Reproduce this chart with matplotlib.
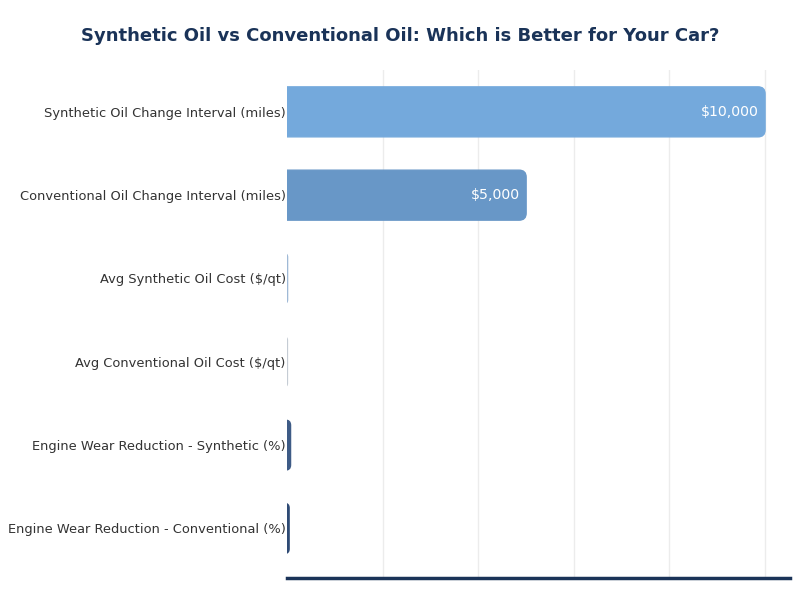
import matplotlib
matplotlib.use("Agg")
import matplotlib.pyplot as plt
from matplotlib.patches import FancyBboxPatch

categories = [
    "Synthetic Oil Change Interval (miles)",
    "Conventional Oil Change Interval (miles)",
    "Avg Synthetic Oil Cost ($/qt)",
    "Avg Conventional Oil Cost ($/qt)",
    "Engine Wear Reduction - Synthetic (%)",
    "Engine Wear Reduction - Conventional (%)",
]
values = [10000, 5000, 8, 5, 70, 40]
labels = ["$10,000", "$5,000", "", "", "", ""]
colors = ["#74a9dc", "#6897c7", "#9fb9d6", "#c5ccd4", "#3e5b86", "#2e4a74"]

fig = plt.figure(figsize=(8, 6), dpi=100)
ax = fig.add_axes([0.359, 0.036, 0.629, 0.847])

bar_h = 0.6
xmax = 10530
ax.set_xlim(0, xmax)
ax.set_ylim(5.6, -0.5)

ax.barh(range(len(categories)), values, height=bar_h, color="none")

ax_w_px = 0.629 * 800
ax_h_px = 0.847 * 600
x_per_px = xmax / ax_w_px
y_per_px = 6.1 / ax_h_px
r_px = 7
aspect = y_per_px / x_per_px
for i, (v, c) in enumerate(zip(values, colors)):
    rx = r_px * x_per_px
    rr = min(rx, v / 2 + rx / 2)
    p = FancyBboxPatch((-rx, i - bar_h / 2), v + rx, bar_h,
                       boxstyle=f"round,pad=0,rounding_size={rr}",
                       mutation_aspect=aspect,
                       facecolor=c, edgecolor=c, linewidth=1, zorder=3)
    ax.add_patch(p)
    if labels[i]:
        ax.text(v - 6 * x_per_px, i, labels[i], ha="right", va="center",
                color="white", fontsize=10.2, zorder=4)

ax.set_yticks(range(len(categories)))
ax.set_yticklabels(categories, fontsize=9.4, color="#333333")
ax.tick_params(axis="y", length=0, pad=1)
ax.set_xticks([2000, 4000, 6000, 8000, 10000])
ax.tick_params(axis="x", length=0, labelbottom=False)
ax.grid(axis="x", color="#ececec", linewidth=1, zorder=0)
ax.set_axisbelow(True)
for s in ["top", "right", "left"]:
    ax.spines[s].set_visible(False)
ax.spines["bottom"].set_color("#1a3358")
ax.spines["bottom"].set_linewidth(2.5)

fig.text(0.5, 0.94, "Synthetic Oil vs Conventional Oil: Which is Better for Your Car?",
         ha="center", va="center", fontsize=13, fontweight="bold", color="#1a3358")

fig.savefig("out.png", dpi=100)
